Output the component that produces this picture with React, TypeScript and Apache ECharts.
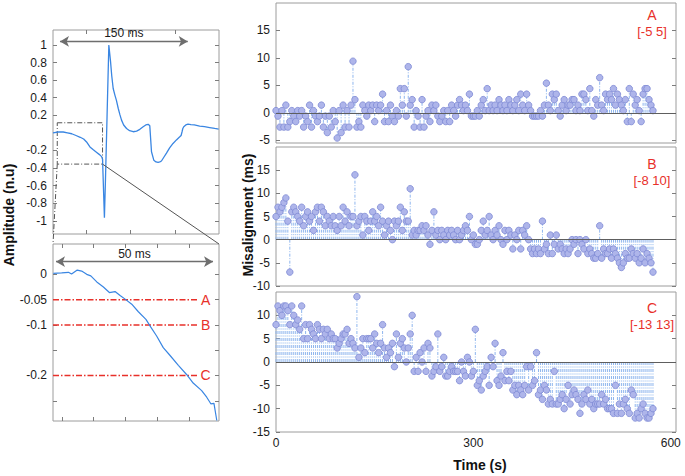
import React, { useEffect, useRef } from 'react';
import * as echarts from 'echarts';

// ---------- data ----------
const TIME_STEP_S = 3; // seconds between successive misalignment estimates

const MIS_A = [
  0.4, -0.6, -2.6, 0.4, -2.6, 1.4, -2.6, -1.6, 0.4, -0.6,
  -1.6, 0.4, -0.6, 0.4, -2.6, -0.6, -1.6, 1.4, -2.6, 0.4,
  -0.6, -1.6, -0.6, 1.4, -2.6, -0.6, -3.6, -0.6, -2.6, 0.4,
  -1.6, -4.6, 0.4, -3.6, 1.4, -2.6, 0.4, -2.6, 1.4, 9.4,
  2.4, -2.6, -1.6, -2.6, 1.4, 0.4, -0.6, 1.4, 0.4, 1.4,
  -1.6, 1.4, 0.4, 1.4, 3.4, -1.6, 0.4, -1.6, 1.4, -0.6,
  -1.6, 0.4, -0.6, 4.4, 1.4, 4.4, -0.6, 8.4, 1.4, 2.4,
  -2.6, 0.4, -0.6, -2.6, 2.4, -2.6, -0.6, 0.4, -1.6, 1.4,
  0.4, 1.4, -0.6, -1.6, -0.6, 0.4, -1.6, 0.4, -1.6, 1.4,
  0.4, -0.6, 1.4, 2.4, 1.4, 0.4, 1.4, 0.4, 3.4, -0.6,
  -0.6, -0.6, 0.4, -0.6, 1.4, 2.4, 0.4, 4.4, 0.4, 1.4,
  0.4, 1.4, 0.4, 2.4, 1.4, 0.4, 1.4, 0.4, 2.4, 1.4,
  0.4, 1.4, 2.4, 0.4, 3.4, 1.4, 0.4, 3.4, 1.4, 0.4,
  -0.6, -0.6, -0.6, -0.6, 0.4, -0.6, 1.4, 5.4, 1.4, 0.4,
  3.4, 2.4, 3.4, 0.4, -0.6, 1.4, 2.4, 0.4, 1.4, 1.4,
  2.4, 2.4, 0.4, 1.4, 0.4, 3.4, 3.4, 2.4, 0.4, 4.4,
  0.4, -0.6, 2.4, 1.4, 6.4, 1.4, 0.4, 3.4, 2.4, 3.4,
  2.4, 4.4, 1.4, 3.4, 2.4, 1.4, 0.4, 2.4, -1.6, 4.4,
  -1.6, 3.4, 1.4, 2.4, 0.4, -1.6, 3.4, 4.4, 4.4, 2.4,
  1.4, 0.4,
];

const MIS_B = [
  5, 7, 6, 7, 8, 9, 4, -7, 6, 7,
  6, 5, 4, 7, 3, 5, 6, 4, 5, 2,
  6, 7, 4, 7, 6, 3, 5, 4, 3, 5,
  3, 2, 5, 3, 7, 4, 6, 3, 5, 5,
  14, 3, 4, 5, 1, 5, 4, 2, 4, 6,
  4, 5, 3, 7, 4, 1, 3, 4, 2, 0,
  4, 3, 4, 7, 2, 6, 4, 4, 11, 1,
  2, 1, 2, 2, 3, 2, 3, 1, -1, 2,
  6, 1, 2, 0, 2, 1, 0, 2, 1, 2,
  1, 0, 2, 0, 1, 2, 3, 2, 5, 0,
  1, -1, -1, 0, 2, 4, 1, 2, 5, 1,
  0, 2, 1, 3, 0, -1, 2, 0, 2, 1,
  -2, 1, 0, 2, -2, 2, 1, 3, 0, -2,
  -3, -2, -3, -2, -3, 4, -2, -1, -3, 1,
  -3, -1, 1, -2, -1, -2, -3, -2, -3, -2,
  0, -1, 0, -3, 0, -1, -2, 0, -3, -2,
  -3, -4, -4, -3, 3, -4, -2, -3, -3, -2,
  -4, -2, -3, -4, -5, -6, -5, -3, -4, -4,
  -2, -3, -4, -3, -5, -4, -2, -5, -3, -4,
  -5, -7,
];

const MIS_C = [
  8, 12, 11, 10, 12, 12, 11, 8, 12, 10,
  8, 9, 7, 12, 5, 8, 5, 8, 7, 6,
  5, 8, 7, 5, 7, 6, 7, 5, 6, 5,
  5, 3, 4, 5, 6, 6, 7, 4, 5, 4,
  3, 14, 1, 3, 5, 2, 5, 5, 5, 3,
  6, 4, 2, 4, 8, 3, 1, 3, 2, 4,
  -1, 6, 1, 4, 5, 3, 0, 3, 6, 10,
  -2, 1, -2, 2, 0, 3, -2, 4, 3, -3,
  -2, -1, 6, -2, -1, 1, -3, -3, -2, -1,
  -2, -2, -2, -4, 0, -2, -3, 1, 0, -3,
  -2, 7, -5, -4, -6, -3, -2, -1, -5, 1,
  -1, 4, -4, -5, -3, 2, -4, -2, -4, -2,
  -6, -5, -7, -5, -6, -7, -5, -1, -6, -1,
  -5, -4, 2, -7, -6, -8, -5, -6, -9, -8,
  -9, -2, -9, -9, -8, -7, -10, -8, -5, -9,
  -7, -6, -7, -8, -11, -9, -7, -8, -6, -9,
  -8, -10, -9, -9, -9, -7, -9, -8, -10, -10,
  -10, -11, -5, -11, -9, -11, -9, -8, -10, -11,
  -6, -7, -12, -11, -12, -10, -9, -11, -12, -12,
  -11, -10,
];

const PANEL_NAMES = ['A', 'B', 'C'];
const PANEL_WINDOWS = ['[-5 5]', '[-8 10]', '[-13 13]'];
const PANEL_Y_MIN = [-5.5, -10, -15];
const PANEL_Y_MAX = [20, 20, 15];
const PANEL_Y_TICKS = [
  [-5, 0, 5, 10, 15],
  [-10, -5, 0, 5, 10, 15],
  [-15, -10, -5, 0, 5, 10],
];
const TIME_TICKS = [0, 300, 600];
const TIME_MAX = 608;

// ECG beat (ms, normalised amplitude)
const ECG_T = [
  0, 6, 12, 17, 22, 27, 32, 36, 40, 43.4,
  47, 51, 55, 57.1, 58.2, 60.4, 61.5, 63.5, 65.6, 67.6,
  69, 70.7, 72.7, 74.5, 76.6, 78.5, 80.5, 83, 86.4, 90,
  94.2, 98.2, 102, 105.9, 109, 111.8, 113.7, 115.7, 118.4, 121,
  123.5, 125.5, 127.4, 130, 133.3, 137, 141, 145, 148.9, 150.5,
  151.6, 152.5, 153.6, 156, 158.6, 162, 166, 172.3, 178, 184,
  190, 194.6,
];
const ECG_A = [
  0.0, 0.01, 0.01, 0.0, -0.01, -0.03, -0.05, -0.07, -0.11, -0.16,
  -0.19, -0.22, -0.25, -0.27, -0.3, -0.965, -0.58, 0.19, 1.0, 0.81,
  0.65, 0.505, 0.43, 0.37, 0.28, 0.21, 0.145, 0.09, 0.05, 0.025,
  0.013, 0.02, 0.04, 0.07, 0.09, 0.097, 0.08, -0.215, -0.31, -0.33,
  -0.335, -0.33, -0.32, -0.28, -0.23, -0.17, -0.12, -0.08, -0.045, -0.03,
  0.013, 0.05, 0.07, 0.09, 0.1, 0.095, 0.09, 0.077, 0.07, 0.06,
  0.05, 0.043,
];
const AMP_TICKS = [1, 0.8, 0.6, 0.4, 0.2, -0.2, -0.4, -0.6, -0.8, -1];
const ECG_X_TICKS = [38.7, 90.9, 143.1];

// zoomed onset (ms, amplitude)
const ZOOM_T = [
  0.1, 2.75, 4.9, 5.9, 7.7, 9.1, 10.7, 12.0, 13.9, 16.0,
  17.9, 19.7, 21.3, 22.9, 25.0, 27.1, 29.5, 31.0, 32.9, 35.0,
  37.1, 39.8, 42.4, 44.5, 47.2, 48.8, 50.1, 51.1, 52.0,
];
const ZOOM_A = [
  0.002, 0.003, 0.004, 0.0006, 0.0085, 0.0065, 0, -0.003, -0.015, -0.025,
  -0.036, -0.034, -0.042, -0.049, -0.059, -0.074, -0.089, -0.104, -0.122, -0.145,
  -0.16, -0.18, -0.198, -0.215, -0.23, -0.243, -0.256, -0.255, -0.289,
];
const ZOOM_LABEL_TICKS = [0, -0.05, -0.1, -0.2];
const ZOOM_TICKS = [0, -0.05, -0.1, -0.15, -0.2, -0.25];
const ZOOM_X_TICKS = [2.8, 12.9, 23.0, 33.1, 43.2];
const THRESHOLDS = [-0.05, -0.1, -0.2];
const THRESHOLD_END_MS = 45.9;

// zoom window drawn on the full beat
const ZOOM_BOX_T = [5, 58.2];
const ZOOM_BOX_A = [-0.355, 0.115];

// measurement arrows
const BEAT_ARROW = { from: 8.2, to: 158.3, at: 1.04, text: '150 ms' };
const ONSET_ARROW = { from: 0.95, to: 50.8, at: 0.025, text: '50 ms' };

// ---------- style ----------
const FONT = '"Liberation Sans", Arial, Helvetica, sans-serif';
const RED = '#e8302a';
const TEXT = '#1a1a1a';
const FRAME = '#9c9c9c';
const STEM = '#8fb6ee';
const MARK_FILL = '#aeb5ea';
const MARK_EDGE = '#7e89d4';
const ARROW = '#6e6e6e';

const tick = (vals: number[]) => ({
  show: true,
  inside: true,
  length: 4,
  lineStyle: { color: '#7c7c7c', width: 1 },
  customValues: vals,
});
const noLine = { show: false, onZero: false };
const noSplit = { show: false };
const labelStyle = (vals: number[] | null, margin = 6) =>
  vals
    ? { show: true, customValues: vals, color: TEXT, fontSize: 12, fontFamily: FONT, margin }
    : { show: false };

function buildOption() {
  const grids = [
    { left: 53, top: 30, width: 166, height: 204 },
    { left: 53, top: 244, width: 166, height: 177 },
    { left: 276, top: 3, width: 400, height: 140 },
    { left: 276, top: 147, width: 400, height: 139 },
    { left: 276, top: 292, width: 400, height: 140 },
  ].map((g) => ({ ...g, show: true, borderColor: FRAME, borderWidth: 1, containLabel: false }));

  const xAxis: any[] = [];
  const yAxis: any[] = [];

  // left panels: x axes (bottom + top ticks)
  const leftX = [
    { min: 0, max: 195, ticks: ECG_X_TICKS },
    { min: 0, max: 52.7, ticks: ZOOM_X_TICKS },
  ];
  leftX.forEach((ax, gi) => {
    ['bottom', 'top'].forEach((pos) =>
      xAxis.push({
        type: 'value', gridIndex: gi, position: pos, min: ax.min, max: ax.max,
        axisLine: noLine, splitLine: noSplit, axisTick: tick(ax.ticks), axisLabel: { show: false },
      }),
    );
  });
  // right panels: x axes
  [0, 1, 2].forEach((p) =>
    xAxis.push({
      type: 'value', gridIndex: 2 + p, position: 'bottom', min: 0, max: TIME_MAX,
      axisLine: noLine, splitLine: noSplit, axisTick: { show: false },
      axisLabel: p === 2 ? labelStyle(TIME_TICKS, 5) : { show: false },
    }),
  );

  // left panels: y axes
  const leftY = [
    { min: -1.15, max: 1.17, labels: AMP_TICKS, ticks: AMP_TICKS },
    { min: -0.29, max: 0.06, labels: ZOOM_LABEL_TICKS, ticks: ZOOM_TICKS },
  ];
  leftY.forEach((ax, gi) => {
    yAxis.push({
      type: 'value', gridIndex: gi, position: 'left', min: ax.min, max: ax.max,
      axisLine: noLine, splitLine: noSplit, axisTick: tick(ax.ticks), axisLabel: labelStyle(ax.labels),
    });
    yAxis.push({
      type: 'value', gridIndex: gi, position: 'right', min: ax.min, max: ax.max,
      axisLine: noLine, splitLine: noSplit, axisTick: tick(ax.ticks), axisLabel: { show: false },
    });
  });
  // right panels: y axes
  [0, 1, 2].forEach((p) => {
    yAxis.push({
      type: 'value', gridIndex: 2 + p, position: 'left', min: PANEL_Y_MIN[p], max: PANEL_Y_MAX[p],
      axisLine: noLine, splitLine: noSplit, axisTick: tick(PANEL_Y_TICKS[p]), axisLabel: labelStyle(PANEL_Y_TICKS[p]),
    });
    yAxis.push({
      type: 'value', gridIndex: 2 + p, position: 'right', min: PANEL_Y_MIN[p], max: PANEL_Y_MAX[p],
      axisLine: noLine, splitLine: noSplit, axisTick: tick(PANEL_Y_TICKS[p]), axisLabel: { show: false },
    });
  });

  const arrowStyle = { color: ARROW, width: 1.3, type: 'solid' };
  const arrowLine = (a: { from: number; to: number; at: number; text: string }) => {
    const label = { show: true, position: 'middle', formatter: a.text, color: TEXT, fontSize: 12, fontFamily: FONT, distance: 2 };
    return [
      { coord: [a.from, a.at], symbol: 'arrow', symbolSize: [8, 9], lineStyle: arrowStyle, label },
      { coord: [a.to, a.at], symbol: 'arrow', symbolSize: [8, 9], lineStyle: arrowStyle, label },
    ];
  };

  const series: any[] = [];
  series.push({
    type: 'line', xAxisIndex: 0, yAxisIndex: 0, showSymbol: false, silent: true,
    data: ECG_T.map((t, i) => [t, ECG_A[i]]),
    lineStyle: { color: '#3a86e2', width: 1.3 },
    markLine: {
      silent: true, symbol: 'none', animation: false,
      lineStyle: arrowStyle,
      data: [arrowLine(BEAT_ARROW)],
    },
    markArea: {
      silent: true,
      itemStyle: { color: 'rgba(0,0,0,0)', borderColor: '#555', borderWidth: 1, borderType: [5, 2, 1, 2] },
      data: [[{ coord: [ZOOM_BOX_T[0], ZOOM_BOX_A[1]] }, { coord: [ZOOM_BOX_T[1], ZOOM_BOX_A[0]] }]],
    },
  });

  series.push({
    type: 'line', xAxisIndex: 2, yAxisIndex: 2, showSymbol: false, silent: true,
    data: ZOOM_T.map((t, i) => [t, ZOOM_A[i]]),
    lineStyle: { color: '#3a86e2', width: 1.2 },
    z: 3,
    markLine: {
      silent: true, symbol: 'none', animation: false,
      lineStyle: arrowStyle,
      data: [arrowLine(ONSET_ARROW)],
    },
  });
  // detection thresholds (red dash-dot) on the zoomed onset
  series.push({
    type: 'custom', xAxisIndex: 2, yAxisIndex: 2, silent: true, z: 2,
    data: THRESHOLDS.map((th, i) => [th, i]),
    renderItem: (_params: any, api: any) => {
      const th = api.value(0);
      const idx = api.value(1);
      const a = api.coord([0, th]);
      const b = api.coord([THRESHOLD_END_MS, th]);
      return {
        type: 'group',
        children: [
          {
            type: 'line',
            shape: { x1: a[0], y1: a[1], x2: b[0], y2: b[1] },
            style: { stroke: RED, lineWidth: 1.5, lineDash: [6, 2, 1.5, 2], fill: null },
          },
          {
            type: 'text',
            x: b[0] + 8, y: b[1],
            style: {
              text: PANEL_NAMES[idx], fill: RED, font: `14px ${FONT}`,
              align: 'center', verticalAlign: 'middle',
            },
          },
        ],
      };
    },
  });

  const panels = [MIS_A, MIS_B, MIS_C];
  panels.forEach((vals, p) => {
    const data = vals.map((v, i) => [i * TIME_STEP_S, v]);
    series.push({
      type: 'custom', xAxisIndex: 4 + p, yAxisIndex: 4 + 2 * p, silent: true,
      data,
      renderItem: (_params: any, api: any) => {
        const x = api.value(0);
        const y = api.value(1);
        const p0 = api.coord([x, 0]);
        const p1 = api.coord([x, y]);
        return {
          type: 'line',
          shape: { x1: p0[0], y1: p0[1], x2: p1[0], y2: p1[1] },
          style: { stroke: STEM, lineWidth: 1, lineDash: [3, 1.5, 1, 1.5] },
        };
      },
    });
  });
  panels.forEach((vals, p) => {
    series.push({
      type: 'scatter', xAxisIndex: 4 + p, yAxisIndex: 4 + 2 * p, silent: true,
      symbol: 'circle', symbolSize: 6.5,
      itemStyle: { color: MARK_FILL, borderColor: MARK_EDGE, borderWidth: 0.8, opacity: 1 },
      data: vals.map((v, i) => [i * TIME_STEP_S, v]),
      markLine: {
        silent: true, symbol: 'none', animation: false, label: { show: false },
        lineStyle: { color: '#5e5e5e', width: 1, type: 'solid' },
        data: [{ yAxis: 0 }],
      },
    });
  });

  return {
    animation: false,
    backgroundColor: '#ffffff',
    textStyle: { fontFamily: FONT },
    grid: grids,
    xAxis,
    yAxis,
    series,
  };
}

export default function App() {
  const ref = useRef<HTMLDivElement>(null);
  useEffect(() => {
    document.body.style.margin = '0';
    const chart = echarts.init(ref.current!, null, { renderer: 'svg' });
    chart.setOption(buildOption());

    const boxBL = chart.convertToPixel({ seriesIndex: 0 }, [ZOOM_BOX_T[0], ZOOM_BOX_A[0]]) as number[];
    const boxBR = chart.convertToPixel({ seriesIndex: 0 }, [ZOOM_BOX_T[1], ZOOM_BOX_A[0]]) as number[];
    const zTL = chart.convertToPixel({ seriesIndex: 1 }, [0, 0.06]) as number[];
    const zTR = chart.convertToPixel({ seriesIndex: 1 }, [52.7, 0.06]) as number[];

    const titleFont = `bold 14px ${FONT}`;
    const elements: any[] = [
      {
        type: 'line', silent: true, z: 50,
        shape: { x1: boxBL[0], y1: boxBL[1], x2: zTL[0], y2: zTL[1] },
        style: { stroke: '#555', lineWidth: 1, lineDash: [5, 2, 1, 2] },
      },
      {
        type: 'line', silent: true, z: 50,
        shape: { x1: boxBR[0], y1: boxBR[1], x2: zTR[0], y2: zTR[1] },
        style: { stroke: '#555', lineWidth: 1 },
      },
      {
        type: 'text', x: 9, y: 215, rotation: Math.PI / 2,
        style: { text: 'Amplitude (n.u)', font: titleFont, fill: '#111', align: 'center', verticalAlign: 'middle' },
      },
      {
        type: 'text', x: 248, y: 215, rotation: Math.PI / 2,
        style: { text: 'Misalignment (ms)', font: titleFont, fill: '#111', align: 'center', verticalAlign: 'middle' },
      },
      {
        type: 'text', x: 480, y: 465,
        style: { text: 'Time (s)', font: titleFont, fill: '#111', align: 'center', verticalAlign: 'middle' },
      },
    ];
    const labelY = [15, 164, 307.5];
    PANEL_NAMES.forEach((name, p) => {
      elements.push({
        type: 'text', x: 652, y: labelY[p],
        style: { text: name, font: `14px ${FONT}`, fill: RED, align: 'center', verticalAlign: 'middle' },
      });
      elements.push({
        type: 'text', x: 652, y: labelY[p] + 16.5,
        style: { text: PANEL_WINDOWS[p], font: `13px ${FONT}`, fill: RED, align: 'center', verticalAlign: 'middle' },
      });
    });
    chart.setOption({ graphic: elements });

    return () => chart.dispose();
  }, []);
  return <div ref={ref} style={{ width: 685, height: 476 }} />;
}
